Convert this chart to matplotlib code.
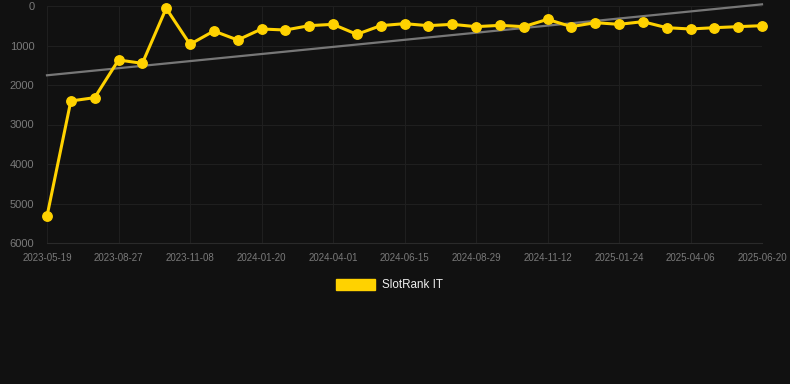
import numpy as np
import matplotlib
matplotlib.use('Agg')
import matplotlib.pyplot as plt

plt.rcParams['font.family'] = ['Liberation Sans', 'DejaVu Sans']

# rank values, one per snapshot (every 3rd one labelled on the x axis)
ranks = [5320, 2405, 2320, 1367, 1451, 58, 970, 633, 861, 582, 608, 498, 464, 717, 498,
         447, 498, 464, 523, 490, 523, 338, 523, 422, 464, 397, 549, 582, 549, 523, 498]
tick_labels = ['2023-05-19', '2023-08-27', '2023-11-08', '2024-01-20', '2024-04-01',
               '2024-06-15', '2024-08-29', '2024-11-12', '2025-01-24', '2025-04-06',
               '2025-06-20']
yticks = [0, 1000, 2000, 3000, 4000, 5000, 6000]

bg = '#111111'
gold = '#FFD200'

fig = plt.figure(figsize=(7.9, 3.84), dpi=100, facecolor=bg)
ax = fig.add_axes([47 / 790, 1 - 243 / 384, (762 - 47) / 790, (243 - 6) / 384])
ax.set_facecolor(bg)

x = np.arange(len(ranks))
# linear trend through the ranks
k, b = np.polyfit(x, ranks, 1)
ax.plot(x, k * x + b, color='#777777', lw=1.6, zorder=2, clip_on=False)
ax.plot(x, ranks, color=gold, lw=2.2, marker='o', ms=6.8, clip_on=False, zorder=3)

ax.set_xlim(0, len(ranks) - 1)
ax.set_ylim(6000, 0)
ax.set_yticks(yticks)
ax.set_yticklabels([str(v) for v in yticks])
ax.set_xticks(x[::3])
ax.set_xticklabels(tick_labels)

ax.grid(True, color='#1f1f1f', lw=0.8)
ax.set_axisbelow(True)
for s in ['top', 'right', 'left']:
    ax.spines[s].set_visible(False)
ax.spines['bottom'].set_color('#2a2a2a')
ax.tick_params(axis='x', length=0, pad=7, labelsize=7, labelcolor='#7a7a7a')
ax.tick_params(axis='y', length=0, pad=9, labelsize=8, labelcolor='#7a7a7a')

# legend
fig.patches.append(plt.Rectangle((336 / 790, 1 - 290 / 384), 39 / 790, 11 / 384,
                                 transform=fig.transFigure, color=gold))
fig.text(382 / 790, 1 - 285 / 384, 'SlotRank IT', color='#eeeeee', fontsize=8.4, va='center')

fig.savefig('out.png', facecolor=bg)
